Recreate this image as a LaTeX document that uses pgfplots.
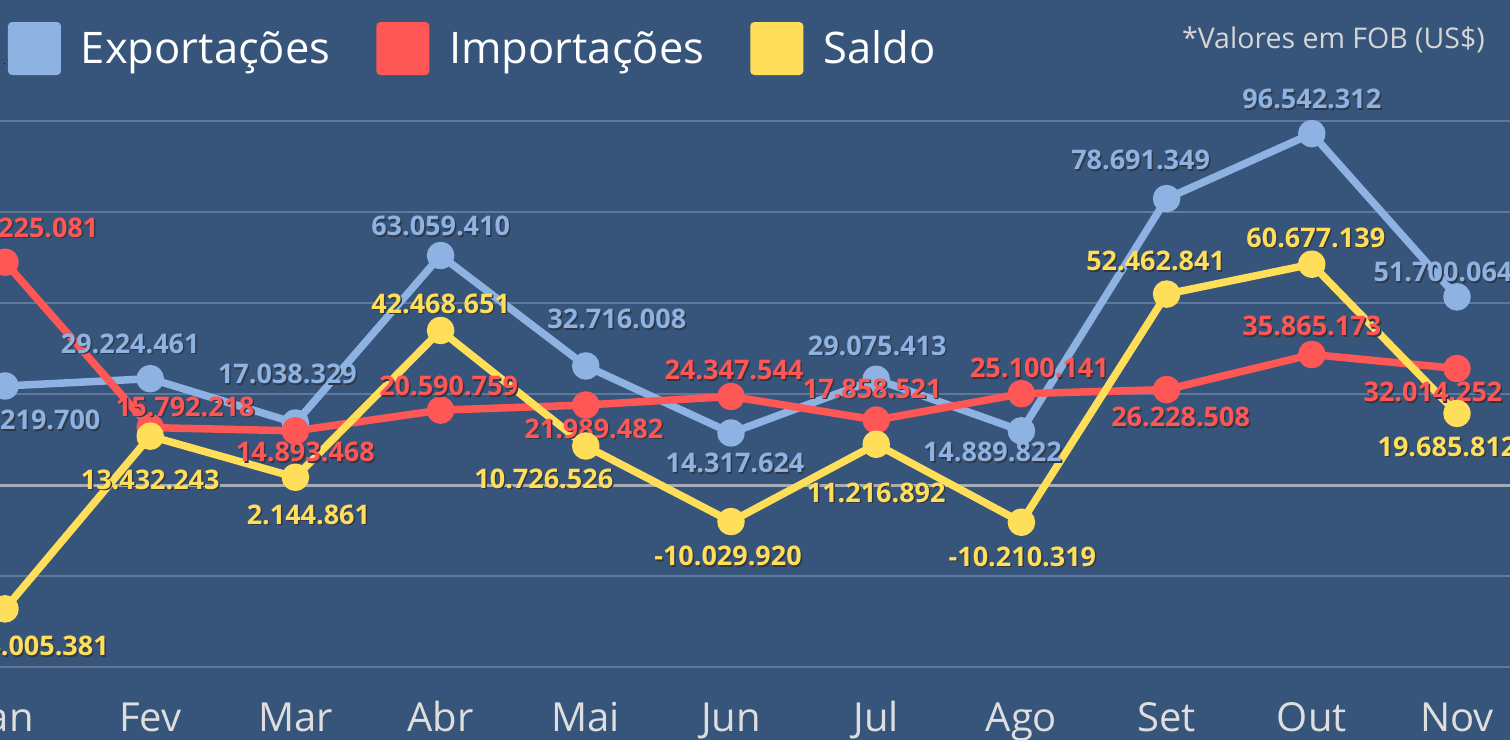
\documentclass[border=0pt]{standalone}
\usepackage{fontspec}
\setmainfont{Open Sans}
\usepackage{pgfplots}
\usepackage{pgfplotstable}
\pgfplotsset{compat=1.18}

\definecolor{bgc}{RGB}{55,85,122}
\definecolor{gridc}{RGB}{96,120,154}
\definecolor{zeroc}{RGB}{165,172,184}
\definecolor{expc}{RGB}{142,178,226}
\definecolor{impc}{RGB}{255,86,86}
\definecolor{salc}{RGB}{255,222,89}
\definecolor{tickc}{RGB}{222,222,222}
\definecolor{valc}{RGB}{214,214,214}
\definecolor{shadowc}{RGB}{48,56,70}

\newcommand\lblfont{\fontsize{27}{32}\selectfont\bfseries}
\newcommand\sh[1]{\makebox[0pt][l]{\kern1.5pt\raisebox{-1.5pt}{\textcolor{shadowc}{#1}}}#1}

% x y label dx(pt) sy(pt, upward)
\pgfplotstableread{
x y lbl lx ly
0 27219700 27.219.700 26 -35
1 29224461 29.224.461 -20 34.5
2 17038329 17.038.329 -8 48
3 63059410 63.059.410 0 28.5
4 32716008 32.716.008 31 46
5 14317624 14.317.624 4 -31
6 29075413 29.075.413 1 33
7 14889822 14.889.822 -29 -22
8 78691349 78.691.349 -26 37.5
9 96542312 96.542.312 0 33.5
10 51700064 51.700.064 -14 24
}\exptab

\pgfplotstableread{
x y lbl lx ly
0 61225081 61.225.081 24 34
1 15792218 15.792.218 35 20
2 14893468 14.893.468 10 -22
3 20590759 20.590.759 8 23
4 21989482 21.989.482 8 -24.5
5 24347544 24.347.544 3 25.5
6 17858521 17.858.521 -4 30.5
7 25100141 25.100.141 18 25
8 26228508 26.228.508 14 -28.5
9 35865173 35.865.173 0 27.7
10 32014252 32.014.252 -24 -24.5
}\imptab

\pgfplotstableread{
x y lbl lx ly
0 -34005381 -34.005.381 30 -38
1 13432243 13.432.243 0 -44
2 2144861 2.144.861 13 -38
3 42468651 42.468.651 0 26
4 10726526 10.726.526 -42 -33.5
5 -10029920 -10.029.920 -3 -35.5
6 11216892 11.216.892 0 -49
7 -10210319 -10.210.319 1 -35
8 52462841 52.462.841 -11 32
9 60677139 60.677.139 4 26
10 19685812 19.685.812 -10 -34
}\saltab

\pgfplotsset{
  lbl/.style={
    nodes near coords={\sh{\pgfplotspointmeta}},
    point meta=explicit symbolic,
    visualization depends on={\thisrow{lx}\as\lx},
    visualization depends on={\thisrow{ly}\as\ly},
    every node near coord/.append style={anchor=center, inner sep=0pt,
      font=\lblfont, text=#1, xshift=\lx pt, yshift=\ly pt},
  },
  ser/.style={color=#1, line width=7.5pt, line join=round, mark=*,
    mark size=10pt, mark options={draw=none, fill=#1}, lbl=#1},
}

\begin{document}
\begin{tikzpicture}
\useasboundingbox (0,0) rectangle (1510pt,740pt);
\clip (0,0) rectangle (1510pt,740pt);
\fill[bgc] (0,0) rectangle (1510pt,740pt);
\begin{axis}[
  at={(0pt,50pt)}, anchor=south west,
  scale only axis, width=1510pt, height=605pt,
  xmin=-0.0344, xmax=10.365,
  ymin=-56.3e6, ymax=109.9e6,
  clip=false,
  axis line style={draw=none},
  tick style={draw=none},
  major tick length=0pt,
  xtick={0,...,10},
  xticklabels={Jan,Fev,Mar,Abr,Mai,Jun,Jul,Ago,Set,Out,Nov},
  xticklabel style={font=\fontsize{40}{48}\selectfont, text=tickc,
    anchor=base, inner sep=0pt, yshift=-41pt},
  ytick={-50e6,-25e6,25e6,50e6,75e6,100e6},
  yticklabels={},
  ymajorgrids,
  grid style={gridc, line width=2pt},
  extra y ticks={0},
  extra y tick labels={},
  extra y tick style={grid style={zeroc, line width=3pt}},
  legend columns=3,
  legend image code/.code={\fill[#1, draw=none, rounded corners=4pt] (0pt,-26.5pt) rectangle (53pt,26.5pt);},
  legend style={at={(0.0053,1.1041)}, anchor=north west, draw=none, fill=none,
    inner sep=0pt, outer sep=0pt, text=white,
    font=\fontsize{43.5}{52}\selectfont,
    cells={anchor=west},
    nodes={inner sep=0pt, text height=30pt, text depth=0pt},
    /tikz/every odd column/.append style={column sep=20pt},
    /tikz/every even column/.append style={column sep=46pt}},
]
\addplot[ser=expc] table[x=x, y=y, meta=lbl] {\exptab};
\addlegendentry{Exportações}
\addplot[ser=impc] table[x=x, y=y, meta=lbl] {\imptab};
\addlegendentry{Importações}
\addplot[ser=salc] table[x=x, y=y, meta=lbl] {\saltab};
\addlegendentry{Saldo}
\node[anchor=base east, inner sep=0pt, text=valc, font=\fontsize{28.5}{34}\selectfont]
  at (axis description cs:0.98344,1.06066) {*Valores em FOB (US\$)};
\end{axis}
\end{tikzpicture}
\end{document}
